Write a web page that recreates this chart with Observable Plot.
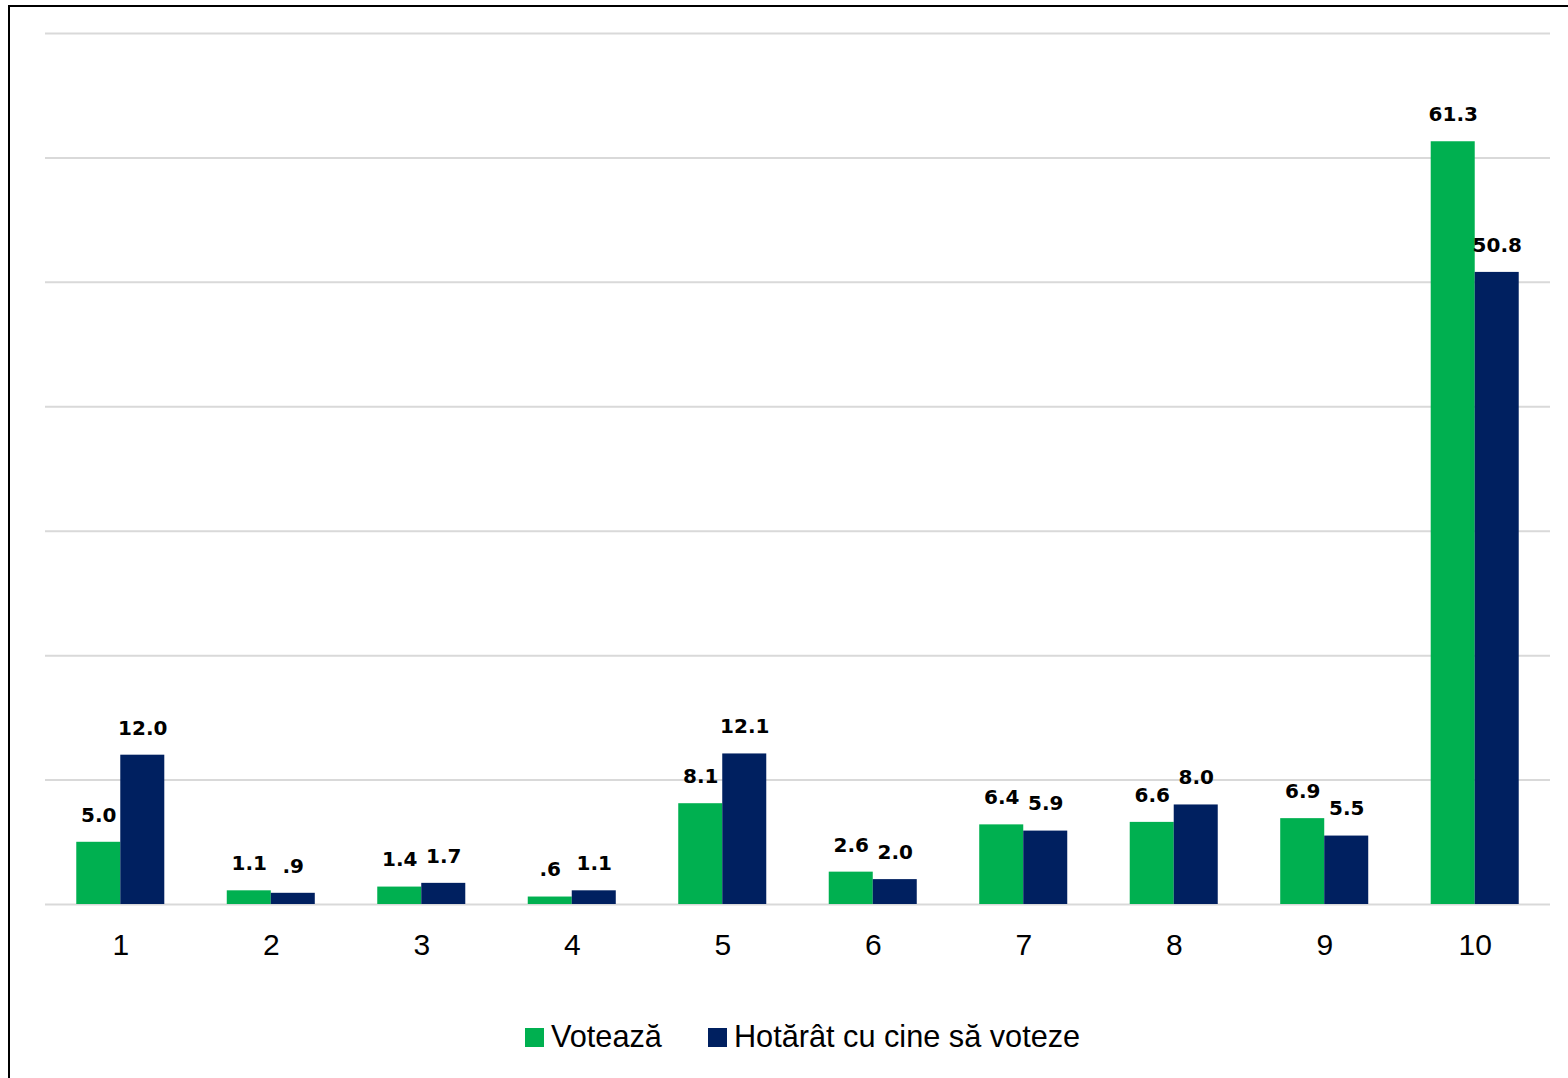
<!DOCTYPE html>
<html>
<head>
<meta charset="utf-8">
<script src="https://cdn.jsdelivr.net/npm/d3@7"></script>
<script src="https://cdn.jsdelivr.net/npm/@observablehq/plot@0.6"></script>
<style>
  html, body { margin: 0; padding: 0; background: #fff; width: 1568px; height: 1078px; overflow: hidden; }
  #frame { position: absolute; left: 8px; top: 5px; width: 1600px; height: 1120px; border: 2px solid #000; box-sizing: border-box; }
  #chart { position: absolute; left: 0; top: 0; }
  #legend { position: absolute; left: 525px; top: 1019px; display: flex; align-items: center; font-family: "Liberation Sans", Arial, sans-serif; font-size: 30.7px; line-height: 36px; color: #000; white-space: nowrap; }
  .sw { display: inline-block; width: 19px; height: 19px; margin-right: 7px; }
  .item { display: flex; align-items: center; }
</style>
</head>
<body>
<div id="frame"></div>
<div id="chart"></div>
<div id="legend"></div>
<script>
const categories = ["1", "2", "3", "4", "5", "6", "7", "8", "9", "10"];
const voteaza = [5.0, 1.1, 1.4, 0.6, 8.1, 2.6, 6.4, 6.6, 6.9, 61.3];
const hotarat = [12.0, 0.9, 1.7, 1.1, 12.1, 2.0, 5.9, 8.0, 5.5, 50.8];
const seriesNames = ["Votează", "Hotărât cu cine să voteze"];
const yTicks = [0, 10, 20, 30, 40, 50, 60, 70];

const colors = ["#00B050", "#002060"];

const fmt = v => { const s = v.toFixed(1); return v < 1 ? s.replace(/^0/, "") : s; };
const rowsA = categories.map((c, i) => ({cat: c, v: voteaza[i]}));
const rowsB = categories.map((c, i) => ({cat: c, v: hotarat[i]}));

const labelStyle = {fontFamily: "DejaVu Sans", fontWeight: "bold", fontSize: 20, fill: "#000", textAnchor: "middle", lineAnchor: "middle"};

const chart = Plot.plot({
  width: 1568,
  height: 990,
  marginTop: 33,
  marginLeft: 45,
  marginRight: 18,
  marginBottom: 86,
  style: {fontFamily: "Liberation Sans, Arial, sans-serif", fontSize: "30px", background: "transparent", overflow: "visible"},
  x: {type: "band", domain: categories, paddingInner: 0.7075, paddingOuter: 0.354, round: false, axis: null},
  y: {domain: [0, 70], axis: null},
  marks: [
    Plot.ruleY(yTicks, {stroke: "#d9d9d9", strokeWidth: 2}),
    Plot.barY(rowsA, {x: "cat", y: "v", fill: colors[0], dx: -22}),
    Plot.barY(rowsB, {x: "cat", y: "v", fill: colors[1], dx: 22}),
    Plot.text(rowsA, {x: "cat", y: "v", text: d => fmt(d.v), dx: -22, dy: -27, ...labelStyle}),
    Plot.text(rowsB, {x: "cat", y: "v", text: d => fmt(d.v), dx: 22, dy: -27, ...labelStyle}),
    Plot.text(categories, {x: d => d, frameAnchor: "bottom", dy: 41, text: d => d, fontSize: 30, fill: "#000", textAnchor: "middle", lineAnchor: "middle"})
  ]
});
document.getElementById("chart").appendChild(chart);

const legend = document.getElementById("legend");
seriesNames.forEach((name, i) => {
  const item = document.createElement("span");
  item.className = "item";
  if (i > 0) item.style.marginLeft = "46px";
  const sw = document.createElement("span");
  sw.className = "sw";
  sw.style.background = colors[i];
  const t = document.createElement("span");
  t.textContent = name;
  item.appendChild(sw);
  item.appendChild(t);
  legend.appendChild(item);
});
</script>
</body>
</html>
